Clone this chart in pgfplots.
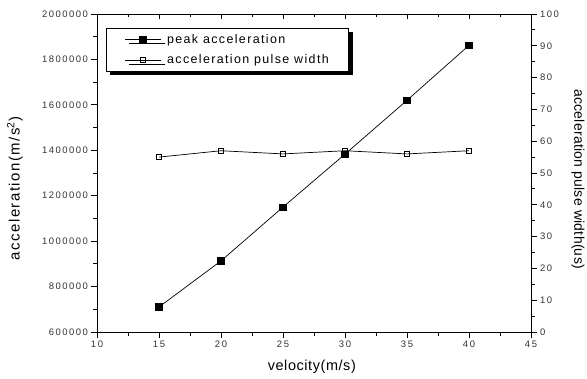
\documentclass[border=0pt]{standalone}
\usepackage{fontspec}
\setmainfont{Liberation Sans}
\newfontfamily\tickfont[LetterSpace=16]{Liberation Sans}
\newfontfamily\legfont[LetterSpace=11]{Liberation Sans}
\newfontfamily\labfontA[LetterSpace=10]{Liberation Sans}
\newfontfamily\labfontB[LetterSpace=2]{Liberation Sans}
\newfontfamily\labfontC[LetterSpace=4]{Liberation Sans}
\usepackage{pgfplots}
\pgfplotsset{compat=1.18}
\usetikzlibrary{shadows}
\begin{document}
\begin{tikzpicture}
\pgfplotsset{
  base/.style={
    at={(0,0)}, anchor=south west,
    scale only axis, width=434bp, height=318bp,
    xmin=10, xmax=45, xtick={10,15,20,25,30,35,40,45}, minor x tick num=1,
    axis line style={line width=0.9bp},
    every tick/.style={black, line width=0.8bp},
    major tick length=5.5bp, minor tick length=3.5bp,
    tick align=outside,
    ticklabel style={font=\tickfont\fontsize{9.5}{11}\selectfont, text=black!80},
    /pgf/number format/assume math mode=true,
  }
}
\begin{axis}[base,
  ymin=600000, ymax=2000000,
  ytick={600000,800000,1000000,1200000,1400000,1600000,1800000,2000000},
  minor y tick num=1,
  ytick pos=left, xtick pos=left,
  scaled y ticks=false,
  yticklabel style={/pgf/number format/fixed, /pgf/number format/1000 sep={}},
  xlabel={velocity(m/s)},
  ylabel={acceleration(m/s\textsuperscript{2})},
  xlabel style={font=\labfontC\fontsize{14.5}{17}\selectfont, at={(axis description cs:0.495,-0.11)}, anchor=center},
  ylabel style={font=\labfontA\fontsize{15}{18}\selectfont, at={(axis description cs:-0.189,0.451)}, anchor=center},
]
\addplot[black, line width=0.7bp, mark=square*, mark size=3.2bp, mark options={solid}]
  coordinates {(15,710000) (20,913000) (25,1150000) (30,1383000) (35,1620000) (40,1862000)};
\end{axis}
\begin{axis}[base,
  ymin=0, ymax=100,
  ytick={0,10,20,30,40,50,60,70,80,90,100},
  minor y tick num=1,
  ytick pos=right, yticklabel pos=right,
  xtick=\empty,
  ylabel={acceleration pulse width(us)},
  ylabel style={font=\labfontB\fontsize{14}{17}\selectfont, at={(axis description cs:1.108,0.481)}, anchor=center, rotate=180},
  legend cell align=left,
  legend image code/.code={\draw[mark repeat=2,mark phase=2] plot coordinates {(0bp,0bp) (18bp,0bp) (36bp,0bp)}; \path (40bp,0bp);},
  legend style={at={(axis description cs:0.0207,0.956)}, anchor=north west,
    draw=black, line width=0.9bp, fill=white,
    general shadow={fill=black, shadow xshift=4bp, shadow yshift=-4bp},
    font=\legfont\fontsize{12.5}{15}\selectfont,
    inner xsep=18bp, inner ysep=4bp, row sep=6bp},
]
\addlegendimage{black, line width=0.7bp, mark=square*, mark size=3.2bp}
\addlegendentry{peak acceleration}
\addplot[black, line width=0.7bp, mark=square, mark size=2.5bp, mark options={fill=white}]
  coordinates {(15,55) (20,57) (25,56) (30,57) (35,56) (40,57)};
\addlegendentry{acceleration pulse width}
\end{axis}
\begin{axis}[base,
  ymin=0, ymax=1, ytick=\empty,
  xtick pos=right, tick align=inside, xticklabels={},
]
\end{axis}
\pgfresetboundingbox
\path[use as bounding box] (-97bp,-47bp) rectangle (490bp,332bp);
\end{tikzpicture}
\end{document}
